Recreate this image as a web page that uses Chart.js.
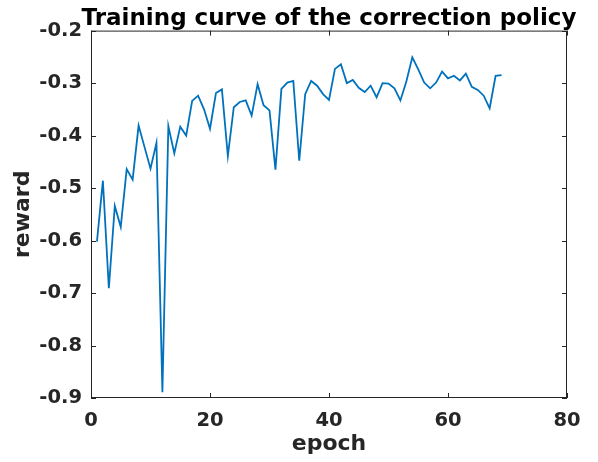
<!DOCTYPE html>
<html>
<head>
<meta charset="utf-8">
<script src="https://cdn.jsdelivr.net/npm/chart.js@4/dist/chart.umd.min.js"></script>
<style>
  html, body { margin: 0; padding: 0; background: #fff; }
  #wrap { width: 598px; height: 462px; }
</style>
</head>
<body>
<div id="wrap"><canvas id="rewardChart"></canvas></div>
<script>
const epochs = [];
for (let e = 1; e <= 69; e++) epochs.push(e);

const rewards = [
    -0.602, -0.486, -0.691, -0.534, -0.574, -0.464, -0.484, -0.381, -0.422, -0.463,
    -0.414, -0.889, -0.382, -0.434, -0.383, -0.400, -0.334, -0.324, -0.350, -0.387,
    -0.319, -0.312, -0.439, -0.346, -0.336, -0.333, -0.362, -0.302, -0.342, -0.352,
    -0.465, -0.311, -0.299, -0.296, -0.448, -0.321, -0.296, -0.305, -0.321, -0.332,
    -0.273, -0.264, -0.300, -0.294, -0.309, -0.317, -0.305, -0.327, -0.300, -0.301,
    -0.310, -0.333, -0.297, -0.251, -0.274, -0.299, -0.310, -0.299, -0.278, -0.291,
    -0.286, -0.295, -0.282, -0.307, -0.313, -0.324, -0.348, -0.286, -0.285
];

const xTicks = [0, 20, 40, 60, 80];
const yTicks = [-0.9, -0.8, -0.7, -0.6, -0.5, -0.4, -0.3, -0.2];

const chartTitle = 'Training curve of the correction policy';
const textColor = '#262626';
const fontFamily = "'DejaVu Sans', sans-serif";

// MATLAB-like box with inward ticks on all four sides, plus the title
// (the title is wider than the plot area, so the built-in one would squeeze it)
const boxPlugin = {
    id: 'matlabBox',
    afterDraw(chart) {
        const { ctx, chartArea: a, scales } = chart;
        const len = 5;
        ctx.save();
        ctx.strokeStyle = textColor;
        ctx.lineWidth = 1;
        ctx.strokeRect(a.left + 0.5, a.top + 0.5, a.right - a.left - 1, a.bottom - a.top - 1);
        ctx.beginPath();
        xTicks.forEach(v => {
            const x = Math.round(scales.x.getPixelForValue(v)) + 0.5;
            ctx.moveTo(x, a.bottom); ctx.lineTo(x, a.bottom - len);
            ctx.moveTo(x, a.top); ctx.lineTo(x, a.top + len);
        });
        yTicks.forEach(v => {
            const y = Math.round(scales.y.getPixelForValue(v)) + 0.5;
            ctx.moveTo(a.left, y); ctx.lineTo(a.left + len, y);
            ctx.moveTo(a.right, y); ctx.lineTo(a.right - len, y);
        });
        ctx.stroke();

        ctx.fillStyle = '#000000';
        ctx.font = "bold 23px 'DejaVu Sans', sans-serif";
        ctx.textAlign = 'center';
        ctx.textBaseline = 'alphabetic';
        ctx.fillText(chartTitle, (a.left + a.right) / 2, a.top - 5.5);
        ctx.restore();
    }
};

function initChart() {
    new Chart(document.getElementById('rewardChart'), {
        type: 'line',
        data: {
            labels: epochs,
            datasets: [{
                data: epochs.map((e, i) => ({ x: e, y: rewards[i] })),
                borderColor: '#0072BD',
                borderWidth: 1.8,
                pointRadius: 0,
                tension: 0,
                fill: false
            }]
        },
        options: {
            responsive: true,
            maintainAspectRatio: false,
            animation: false,
            devicePixelRatio: 1,
            layout: { padding: { left: 0, right: 31, top: 30.6, bottom: 0 } },
            plugins: {
                legend: { display: false },
                tooltip: { enabled: false },
                title: { display: false }
            },
            scales: {
                x: {
                    type: 'linear',
                    min: 0,
                    max: 80,
                    afterBuildTicks: s => { s.ticks = xTicks.map(v => ({ value: v })); },
                    grid: { display: false, drawTicks: false },
                    border: { display: false },
                    ticks: {
                        color: textColor,
                        padding: 11,
                        maxRotation: 0,
                        font: { family: fontFamily, size: 19.5, weight: 'bold' }
                    },
                    title: {
                        display: true,
                        text: 'epoch',
                        color: textColor,
                        padding: { top: 0, bottom: 5 },
                        font: { family: fontFamily, size: 22, weight: 'bold', lineHeight: 1.2 }
                    },
                    afterFit: s => { s.height = 64; }
                },
                y: {
                    type: 'linear',
                    min: -0.9,
                    max: -0.2,
                    afterBuildTicks: s => { s.ticks = yTicks.map(v => ({ value: v })); },
                    grid: { display: false, drawTicks: false },
                    border: { display: false },
                    ticks: {
                        color: textColor,
                        padding: 9,
                        font: { family: fontFamily, size: 19.5, weight: 'bold' },
                        callback: v => v.toFixed(1)
                    },
                    title: {
                        display: true,
                        text: 'reward',
                        color: textColor,
                        padding: { top: 10, bottom: 0 },
                        font: { family: fontFamily, size: 22, weight: 'bold', lineHeight: 1.2 }
                    },
                    afterFit: s => { s.width = 91; }
                }
            }
        },
        plugins: [boxPlugin]
    });
}

if (document.readyState === 'loading') {
    document.addEventListener('DOMContentLoaded', initChart);
} else {
    initChart();
}
</script>
</body>
</html>
